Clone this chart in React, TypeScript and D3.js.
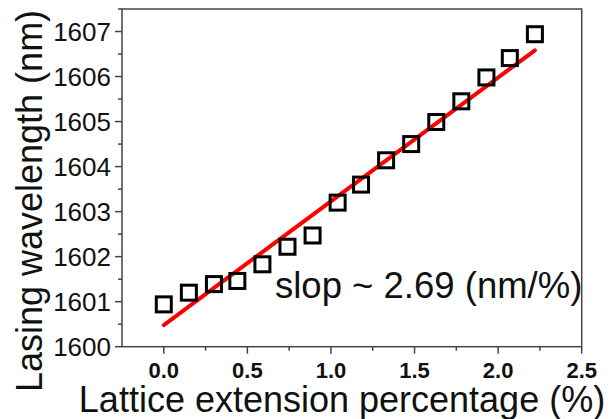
import React from "react";
import * as d3 from "d3";

const xValues = [0, 0.15, 0.3, 0.44, 0.59, 0.74, 0.89, 1.04, 1.18, 1.33, 1.48, 1.63, 1.78, 1.93, 2.07, 2.22];
const yValues = [1600.94, 1601.2, 1601.39, 1601.46, 1601.83, 1602.22, 1602.47, 1603.2, 1603.6, 1604.14, 1604.5, 1604.99, 1605.45, 1605.98, 1606.41, 1606.94];
const fitX = [0, 2.22];
const fitY = [1600.48, 1606.58];
const xTicks = [0, 0.5, 1.0, 1.5, 2.0, 2.5];
const yTicks = [1600, 1601, 1602, 1603, 1604, 1605, 1606, 1607];
const xMinor = [0.25, 0.75, 1.25, 1.75, 2.25];
const yMinor = [1600.5, 1601.5, 1602.5, 1603.5, 1604.5, 1605.5, 1606.5, 1607.5];

const W = 616, H = 419;
const L = 122, R = 581.7, T = 9, B = 346.7;
const FONT = "'Liberation Sans', Arial, sans-serif";

export default function App() {
  const x = d3.scaleLinear().domain([-0.25, 2.5]).range([L, R]);
  const y = d3.scaleLinear().domain([1600, 1607.5]).range([B, T]);
  const line = d3.line<number>().x((_, i) => x(fitX[i])).y((d) => y(d));
  const sq = 15;
  return (
    <svg width={W} height={H} style={{ position: "absolute", left: 0, top: 0, background: "#fff" }}>
      <rect x={L} y={T} width={R - L} height={B - T} fill="none" stroke="#444" strokeWidth={1.5} />
      {xTicks.map((t) => (
        <g key={"xt" + t}>
          <line x1={x(t)} x2={x(t)} y1={B} y2={B + 7} stroke="#444" strokeWidth={1.5} />
          <text x={x(t)} y={378} textAnchor="middle" fontFamily={FONT} fontWeight="bold" fontSize={22} fill="#111">
            {t.toFixed(1)}
          </text>
        </g>
      ))}
      {xMinor.map((t) => (
        <line key={"xm" + t} x1={x(t)} x2={x(t)} y1={B} y2={B + 4} stroke="#444" strokeWidth={1.5} />
      ))}
      {yTicks.map((t) => (
        <g key={"yt" + t}>
          <line x1={L - 7} x2={L} y1={y(t)} y2={y(t)} stroke="#444" strokeWidth={1.5} />
          <text x={111} y={y(t)} dy="0.36em" textAnchor="end" fontFamily={FONT} fontSize={26} fill="#111">
            {t}
          </text>
        </g>
      ))}
      {yMinor.map((t) => (
        <line key={"ym" + t} x1={L - 4} x2={L} y1={y(t)} y2={y(t)} stroke="#444" strokeWidth={1.5} />
      ))}
      <path d={line(fitY) || ""} fill="none" stroke="#ff0000" strokeWidth={4} strokeLinecap="round" />
      {xValues.map((xv, i) => (
        <rect key={"p" + i} x={x(xv) - sq / 2} y={y(yValues[i]) - sq / 2} width={sq} height={sq} fill="none" stroke="#000" strokeWidth={3} />
      ))}
      <text x={275} y={298} fontFamily={FONT} fontSize={36.5} fill="#111">slop ~ 2.69 (nm/%)</text>
      <text x={342} y={412} textAnchor="middle" fontFamily={FONT} fontSize={36} fill="#111">
        Lattice extension percentage (%)
      </text>
      <text transform={`translate(42,201) rotate(-90)`} textAnchor="middle" fontFamily={FONT} fontSize={36} fill="#111">
        Lasing wavelength (nm)
      </text>
    </svg>
  );
}
